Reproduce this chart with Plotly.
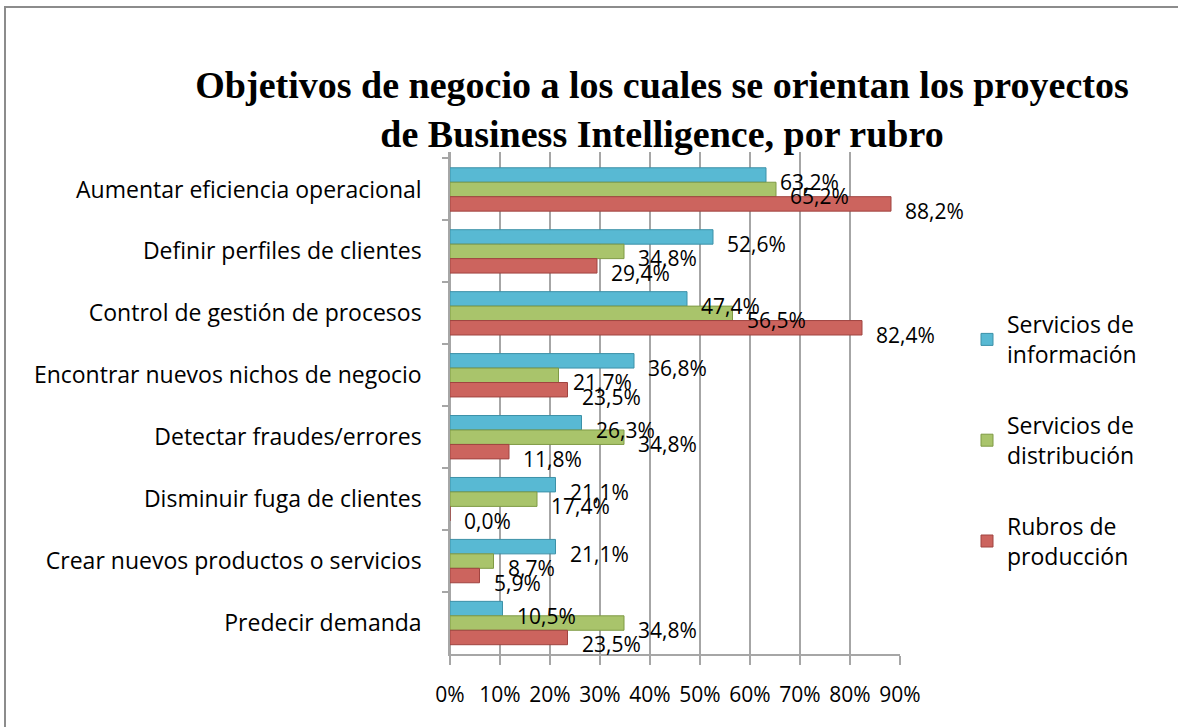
import plotly.graph_objects as go

categories = ["Aumentar eficiencia operacional", "Definir perfiles de clientes",
              "Control de gestión de procesos", "Encontrar nuevos nichos de negocio",
              "Detectar fraudes/errores", "Disminuir fuga de clientes",
              "Crear nuevos productos o servicios", "Predecir demanda"]
serv_info = [63.2, 52.6, 47.4, 36.8, 26.3, 21.1, 21.1, 10.5]
serv_dist = [65.2, 34.8, 56.5, 21.7, 34.8, 17.4, 8.7, 34.8]
rubros_prod = [88.2, 29.4, 82.4, 23.5, 11.8, 0.0, 5.9, 23.5]
series_names = ["Servicios de<br>información", "Servicios de<br>distribución", "Rubros de<br>producción"]
x_ticks = [0, 10, 20, 30, 40, 50, 60, 70, 80, 90]
x_tick_labels = [f"{v}%" for v in x_ticks]

colors = ["#58B9D3", "#A9C46B", "#CC645E"]
edges = ["#3C91A8", "#7F9A45", "#A04440"]
FONT = "Open Sans"
BARGAP = 0.3

def fmt(v):
    return f"{v:.1f}".replace(".", ",") + "%"

fig = go.Figure()
all_series = [serv_info, serv_dist, rubros_prod]
n_series = len(all_series)
bar_w = (1 - BARGAP) / n_series
annotations = []
for i, (name, vals) in enumerate(zip(series_names, all_series)):
    fig.add_trace(go.Bar(
        y=categories, x=vals, orientation="h", name=name,
        marker=dict(color=colors[i], line=dict(color=edges[i], width=1)),
        legendgroup=f"g{i}", cliponaxis=False,
    ))
    for j, v in enumerate(vals):
        annotations.append(dict(
            x=v, y=j + (i - (n_series - 1) / 2) * bar_w, xref="x", yref="y",
            text=fmt(v), showarrow=False, xanchor="left", yanchor="middle",
            xshift=12, yshift=-7,
            font=dict(family=FONT, size=21, color="black")))

L, R, T, B = 450, 278, 152, 73
pw, ph = 1178 - L - R, 727 - T - B
bottom = 727 - B

fig.update_layout(
    width=1178, height=727,
    margin=dict(l=L, r=R, t=T, b=B),
    paper_bgcolor="white", plot_bgcolor="white",
    barmode="group", bargap=BARGAP, bargroupgap=0,
    title=dict(text="Objetivos de negocio a los cuales se orientan los proyectos<br>de Business Intelligence, por rubro",
               x=662 / 1178, xanchor="center", xref="container",
               y=1 - 98 / 727, yanchor="middle", yref="container",
               font=dict(family="Liberation Serif", size=38, color="black", weight="bold")),
    legend=dict(x=(967 - L) / pw, y=(bottom - 303) / ph, xanchor="left", yanchor="top",
                font=dict(family=FONT, size=23, color="black"),
                tracegroupgap=38, bgcolor="rgba(0,0,0,0)"),
    font=dict(family=FONT, size=21, color="black"),
    xaxis=dict(range=[0, 90], tickvals=x_ticks, ticktext=x_tick_labels,
               showgrid=True, gridcolor="#A6A6A6", gridwidth=1.5,
               showline=True, linecolor="#A6A6A6", linewidth=1.5,
               ticks="outside", ticklen=9, tickcolor="#A6A6A6", tickwidth=1.5,
               ticklabelstandoff=12, zeroline=True, zerolinecolor="#A6A6A6",
               tickfont=dict(family=FONT, size=21, color="black")),
    yaxis=dict(autorange="reversed", showline=True, linecolor="#A6A6A6", linewidth=1.5,
               ticks="outside", tickson="boundaries", ticklen=6, tickcolor="#A6A6A6", tickwidth=1.5,
               ticklabelstandoff=22,
               tickfont=dict(family=FONT, size=23, color="black")),
    annotations=annotations,
    shapes=[dict(type="rect", xref="paper", yref="paper",
                 x0=(5 - L) / pw, x1=(1200 - L) / pw,
                 y0=(bottom - 760) / ph, y1=(bottom - 7) / ph,
                 line=dict(color="#8C8C8C", width=2), fillcolor="rgba(0,0,0,0)", layer="below")],
)

fig.write_html("out.html", config={"displayModeBar": False},
               post_script="document.body.style.margin='0';document.body.style.overflow='hidden';")
